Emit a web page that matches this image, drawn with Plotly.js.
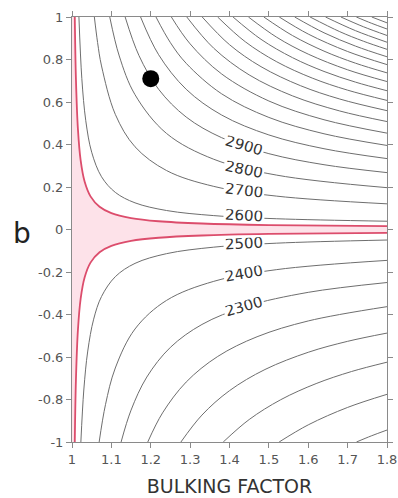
<!DOCTYPE html>
<html>
<head>
<meta charset="utf-8">
<script src="https://cdn.plot.ly/plotly-3.0.1.min.js"></script>
<style>
  html, body { margin: 0; padding: 0; background: #fff; }
  #chart { width: 398px; height: 498px; }
</style>
</head>
<body>
<div id="chart"></div>
<script>
// ---- data ----
const contourLevels = [2600, 2700, 2800, 2900, 3000, 3100, 3200, 3300, 3400, 3500,
                       3600, 3700, 3800, 3900, 4000, 4100, 4200, 4300, 4400, 4500,
                       2500, 2400, 2300, 2200, 2100, 2000, 1900, 1800];

const contourX = [
  [1.0176, 1.025, 1.035, 1.05, 1.075, 1.11, 1.16, 1.24, 1.36, 1.52, 1.8],
  [1.0568, 1.065, 1.075, 1.11, 1.16, 1.24, 1.36, 1.52, 1.8],
  [1.0959, 1.12, 1.16, 1.24, 1.36, 1.52, 1.8],
  [1.135, 1.17, 1.22, 1.29, 1.38, 1.5, 1.64, 1.8],
  [1.1742, 1.22, 1.29, 1.38, 1.5, 1.64, 1.8],
  [1.2133, 1.25, 1.29, 1.38, 1.5, 1.64, 1.8],
  [1.2524, 1.3, 1.38, 1.5, 1.64, 1.8],
  [1.2916, 1.36, 1.45, 1.56, 1.68, 1.8],
  [1.3307, 1.4, 1.48, 1.58, 1.68, 1.8],
  [1.3699, 1.44, 1.52, 1.61, 1.7, 1.8],
  [1.409, 1.48, 1.56, 1.64, 1.72, 1.8],
  [1.4481, 1.52, 1.6, 1.7, 1.8],
  [1.4873, 1.56, 1.64, 1.72, 1.8],
  [1.5264, 1.6, 1.7, 1.8],
  [1.5656, 1.64, 1.72, 1.8],
  [1.6047, 1.68, 1.74, 1.8],
  [1.6439, 1.72, 1.8],
  [1.683, 1.74, 1.8],
  [1.7221, 1.76, 1.8],
  [1.7613, 1.8],
  [1.0225, 1.03, 1.04, 1.055, 1.075, 1.11, 1.16, 1.24, 1.36, 1.52, 1.8],
  [1.069, 1.085, 1.11, 1.16, 1.24, 1.36, 1.52, 1.8],
  [1.1247, 1.15, 1.19, 1.25, 1.33, 1.44, 1.6, 1.8],
  [1.1924, 1.23, 1.29, 1.37, 1.47, 1.6, 1.8],
  [1.2766, 1.33, 1.4, 1.49, 1.6, 1.7, 1.8],
  [1.3841, 1.45, 1.53, 1.62, 1.71, 1.8],
  [1.5261, 1.6, 1.7, 1.8],
  [1.7225, 1.76, 1.8]
];

const contourB = [
  [1, 0.7097, 0.5119, 0.3635, 0.2481, 0.1747, 0.1255, 0.0894, 0.0654, 0.0506, 0.0389],
  [1, 0.8799, 0.7697, 0.5419, 0.3893, 0.2775, 0.2029, 0.157, 0.1208],
  [1, 0.8167, 0.6344, 0.4521, 0.3306, 0.2558, 0.1969],
  [1, 0.8188, 0.6598, 0.5292, 0.4321, 0.3569, 0.3049, 0.2677],
  [1, 0.8225, 0.6598, 0.5387, 0.445, 0.3801, 0.3337],
  [1, 0.879, 0.782, 0.6385, 0.5274, 0.4505, 0.3956],
  [1, 0.8735, 0.732, 0.6047, 0.5165, 0.4535],
  [1, 0.8529, 0.7275, 0.6289, 0.5578, 0.508],
  [1, 0.8698, 0.7663, 0.677, 0.614, 0.5592],
  [1, 0.8836, 0.7892, 0.7126, 0.6557, 0.6075],
  [1, 0.895, 0.8087, 0.7438, 0.6935, 0.6531],
  [1, 0.9046, 0.8252, 0.7515, 0.6963],
  [1, 0.9127, 0.8395, 0.7826, 0.7372],
  [1, 0.9197, 0.8376, 0.776],
  [1, 0.9257, 0.863, 0.8128],
  [1, 0.931, 0.8861, 0.8479],
  [1, 0.9357, 0.8813],
  [1, 0.9542, 0.9131],
  [1, 0.971, 0.9435],
  [1, 0.9725],
  [-1, -0.7553, -0.572, -0.422, -0.3153, -0.222, -0.1595, -0.1137, -0.0831, -0.0643, -0.0495],
  [-1, -0.8244, -0.6517, -0.4682, -0.3337, -0.244, -0.1888, -0.1453],
  [-1, -0.85, -0.6944, -0.5544, -0.4469, -0.3629, -0.2957, -0.2495],
  [-1, -0.863, -0.7178, -0.5975, -0.5047, -0.4303, -0.3631],
  [-1, -0.8733, -0.7584, -0.6589, -0.5778, -0.5262, -0.4875],
  [-1, -0.8942, -0.8011, -0.7251, -0.6683, -0.6244],
  [-1, -0.9193, -0.8372, -0.7756],
  [-1, -0.9713, -0.9437]
];

// red band boundaries
const bandUpperX = [1.00705, 1.01, 1.015, 1.022, 1.032, 1.047, 1.07, 1.1, 1.15, 1.22, 1.33, 1.5, 1.8];
const bandUpperB = [1, 0.707, 0.4737, 0.3252, 0.2258, 0.1559, 0.107, 0.077, 0.0537, 0.0388, 0.0282, 0.021, 0.01575];
const bandLowerX = [1.00705, 1.01, 1.015, 1.022, 1.032, 1.047, 1.07, 1.1, 1.15, 1.22, 1.33, 1.5, 1.8];
const bandLowerB = [-1, -0.707, -0.4737, -0.3252, -0.2258, -0.1559, -0.107, -0.077, -0.0537, -0.0388, -0.0282, -0.021, -0.01575];

// contour labels
const labelText = ['2900', '2800', '2700', '2600', '2500', '2400', '2300'];
const labelX = [1.437, 1.437, 1.437, 1.437, 1.437, 1.437, 1.437];
const labelB = [0.395, 0.284, 0.182, 0.064, -0.068, -0.208, -0.364];

// marked point
const pointX = [1.2];
const pointB = [0.71];

// axes
const xTickVals = [1, 1.1, 1.2, 1.3, 1.4, 1.5, 1.6, 1.7, 1.8];
const xTickText = ['1', '1.1', '1.2', '1.3', '1.4', '1.5', '1.6', '1.7', '1.8'];
const yTickVals = [-1, -0.8, -0.6, -0.4, -0.2, 0, 0.2, 0.4, 0.6, 0.8, 1];
const yTickText = ['-1', '-0.8', '-0.6', '-0.4', '-0.2', '0', '0.2', '0.4', '0.6', '0.8', '1'];
const xTitle = 'BULKING FACTOR';
const yTitle = 'b';

// ---- styles ----
const FONT = 'DejaVu Sans, Liberation Sans, Arial, sans-serif';
const GRAY_LINE = '#6e6e6e';
const RED = '#dc4d6c';
const PINK = '#fde2e9';
const AXIS = '#8a8a8a';
const labelAngles = [16, 12, 7, 3, -3, -10, -16];

const xMin = xTickVals[0], xMax = xTickVals[xTickVals.length - 1];
const yMin = yTickVals[0], yMax = yTickVals[yTickVals.length - 1];

const traces = [];

// pink band fill
const fillX = [xMin].concat(bandUpperX, bandLowerX.slice().reverse(), [xMin]);
const fillY = [yMax].concat(bandUpperB, bandLowerB.slice().reverse(), [yMin]);
traces.push({
  type: 'scatter', mode: 'lines', x: fillX, y: fillY,
  fill: 'toself', fillcolor: PINK, line: { width: 0, color: PINK },
  hoverinfo: 'skip', showlegend: false
});

// contour lines
contourLevels.forEach((lvl, i) => {
  traces.push({
    type: 'scatter', mode: 'lines', x: contourX[i], y: contourB[i],
    line: { color: GRAY_LINE, width: 1, shape: 'spline', smoothing: 1 },
    name: String(lvl), hoverinfo: 'skip', showlegend: false
  });
});

// red band lines
[[bandUpperX, bandUpperB], [bandLowerX, bandLowerB]].forEach(([bx, bb]) => {
  traces.push({
    type: 'scatter', mode: 'lines', x: bx, y: bb,
    line: { color: RED, width: 1.8, shape: 'spline', smoothing: 1 },
    hoverinfo: 'skip', showlegend: false
  });
});

// marked point
traces.push({
  type: 'scatter', mode: 'markers', x: pointX, y: pointB,
  marker: { color: '#000', size: 17 }, hoverinfo: 'skip', showlegend: false
});

const annotations = labelText.map((t, i) => ({
  x: labelX[i], y: labelB[i], xref: 'x', yref: 'y', text: t,
  showarrow: false, textangle: labelAngles[i], bgcolor: '#ffffff', borderpad: 0,
  height: 11, width: 40,
  font: { family: FONT, size: 15, color: '#333' }
}));
annotations.push({
  xref: 'paper', yref: 'paper', x: -0.16, y: 0.49, text: yTitle, showarrow: false,
  xanchor: 'center', yanchor: 'middle', font: { family: FONT, size: 28, color: '#222' }
});

const axisCommon = {
  showgrid: false, zeroline: false, showline: true, linecolor: AXIS, linewidth: 1,
  mirror: 'ticks', ticks: 'outside', ticklen: 5, tickcolor: AXIS, tickwidth: 1,
  ticklabeloverflow: 'allow',
  tickfont: { family: FONT, size: 13, color: '#555' }
};

const layout = {
  width: 398, height: 498,
  margin: { l: 72, r: 11, t: 17, b: 56 },
  paper_bgcolor: '#fff', plot_bgcolor: '#fff',
  showlegend: false,
  xaxis: Object.assign({}, axisCommon, {
    range: [xMin, xMax], tickmode: 'array', tickvals: xTickVals, ticktext: xTickText,
    title: { text: xTitle, font: { family: FONT, size: 19, color: '#333' }, standoff: 14 }
  }),
  yaxis: Object.assign({}, axisCommon, {
    range: [yMin, yMax], tickmode: 'array', tickvals: yTickVals, ticktext: yTickText
  }),
  annotations: annotations
};

Plotly.newPlot('chart', traces, layout, { staticPlot: true, displayModeBar: false });
</script>
</body>
</html>
